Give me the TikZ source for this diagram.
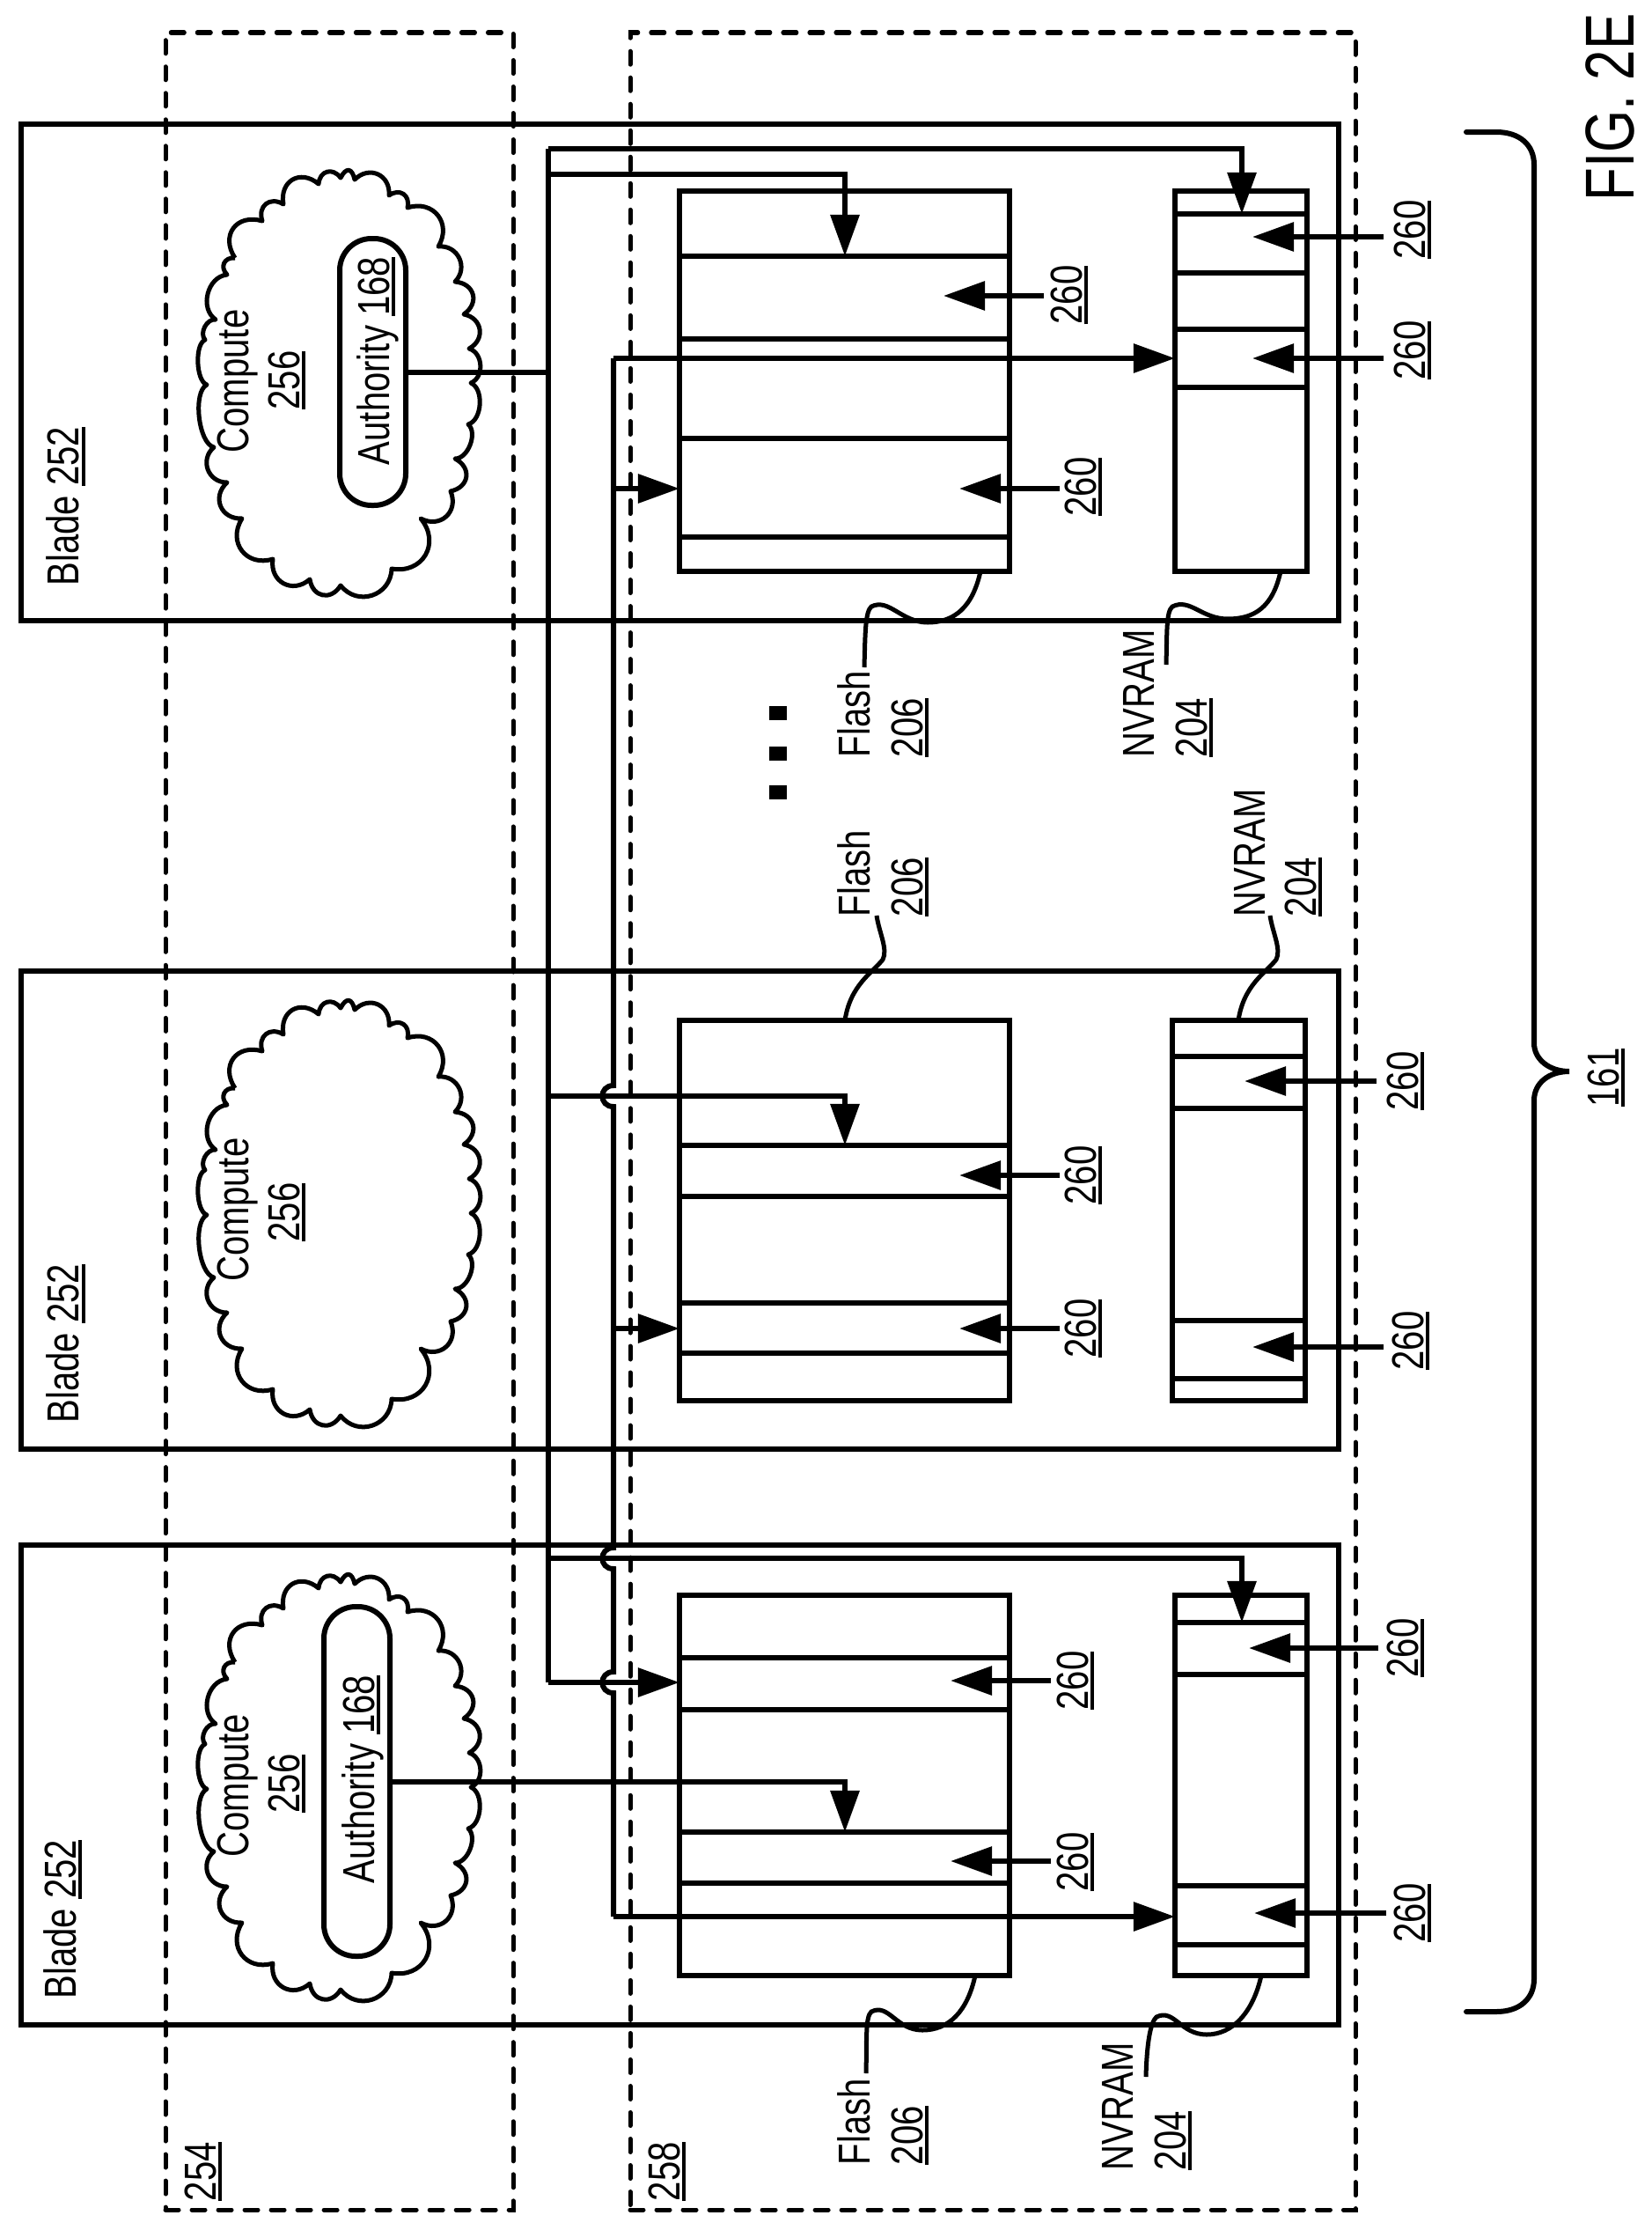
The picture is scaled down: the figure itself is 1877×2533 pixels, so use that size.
\documentclass[tikz,border=0pt]{standalone}
\usepackage{fontspec}
\setmainfont{Liberation Sans}
\usetikzlibrary{arrows.meta}
\newcommand{\refnum}[1]{\vtop{\hbox{#1}\kern0.5pt\hrule height 0.9pt}}
\newcommand{\lab}[1]{\scalebox{1}[1.27]{#1}}
\begin{document}
\begin{tikzpicture}
  [
    x=0.01cm, y=-0.01cm,
    >={Triangle[length=0.47cm,width=0.32cm]},
    wire/.style     = {line width=0.06cm},
    thinwire/.style = {line width=0.05cm},
    solidbox/.style = {draw, line width=0.06cm, inner sep=0pt, outer sep=0pt},
    pillbox/.style  = {solidbox, rounded corners=0.36cm},
    regionbox/.style= {draw, line width=0.05cm, line cap=round, dash pattern=on 0.15cm off 0.15cm, inner sep=0pt, outer sep=0pt},
    txt/.style      = {rotate=90, inner sep=0pt, outer sep=0pt, font=\fontsize{11.4}{13}\selectfont},
    dotbox/.style   = {fill=black, inner sep=0pt, minimum width=0.2cm, minimum height=0.16cm},
    hop/.style      = {out=180, in=180, looseness=1.8},
  ]
\useasboundingbox (0,0) rectangle (1877,2533);

%Blades, memories and the two dashed regions
\foreach \name/\sty/\xa/\ya/\xb/\yb in {
  computeRegion/regionbox/188/37/583/2510, storageRegion/regionbox/716/37/1540/2510,
  bladeA/solidbox/24/141/1521/705, bladeB/solidbox/24/1103/1521/1646, bladeC/solidbox/24/1755/1521/2300,
  flashA/solidbox/772/217/1147/649, flashB/solidbox/772/1159/1147/1591, flashC/solidbox/772/1812/1147/2244,
  nvramA/solidbox/1335/217/1485/649, nvramB/solidbox/1332/1159/1483/1591, nvramC/solidbox/1335/1812/1485/2244,
  pillA/pillbox/386/271/461/574, pillC/pillbox/368/1825/443/2222}
{
\node[\sty, minimum width={(\xb-\xa)*0.01cm}, minimum height={(\yb-\ya)*0.01cm}] (\name) at ({(\xa+\xb)/2},{(\ya+\yb)/2}) {};
}

%Rows inside the memories
\foreach \b/\ys in {
  flashA/{291,385,498,610}, flashB/{1301,1359,1480,1537}, flashC/{1883,1942,2081,2139},
  nvramA/{243,310,374,440}, nvramB/{1200,1259,1500,1566}, nvramC/{1843,1902,2142,2209}}
{
\foreach \y in \ys {
\draw[wire] (\b.west |- 0,\y) -- (\b.east |- 0,\y);
}
}

%Clouds, all three from one outline
\foreach \dy in {0,943,1595}
{
\begin{scope}[shift={(210,{170+\dy})}]
\draw[thinwire, line join=round] (57,123) foreach \cx/\cy/\l in {88/81/1.5,112/62/1.5,152/39/1.5,177/32/1.5,193/34/2.2,232/52/1.4,253/66/1.5,288/110/1.4,307/150/1.3,317/187/1.5,323/226/1.4,325/265/1.1,322/312/0.9,307/351/0.9,302/388/1.5,268/419/1.4,235/476/1.4,177/495/1.3,142/488/1.5,100/465/1.4,65/419/1.4,48/378/1.4,33/338/1.3,25/267/0.65,23/216/0.65,35/193/1,48/142/1.1,57/123/1.5} { to[bend left=70, looseness=\l] (\cx,\cy) };
\end{scope}
}

%Texts centred on a point
\foreach \name/\x/\y/\t in {
  bladeAlab/90/575/Blade \refnum{252}, bladeBlab/90/1526/Blade \refnum{252}, bladeClab/86/2180/Blade \refnum{252},
  computeAlab/282/433/Compute, computeBlab/282/1374/Compute, computeClab/282/2028/Compute,
  computeAnum/340/432/\refnum{256}, computeBnum/340/1377/\refnum{256}, computeCnum/340/2026/\refnum{256},
  pillAlab/442/410/Authority \refnum{168}, pillClab/425/2021/Authority \refnum{168},
  groupnum/1839/1224/\refnum{161}}
{
\node[txt, anchor=base] (\name) at (\x,\y) {\lab{\t}};
}
\node[txt, anchor=base, font=\fontsize{17.6}{20}\selectfont] (figlab) at (1856,122) {\lab{FIG. 2E}};

%Texts starting at a point
\foreach \name/\x/\y/\t in {
  flashAlab/988/860/Flash, flashAnum/1048/860/\refnum{206}, nvramAlab/1311/860/NVRAM, nvramAnum/1371/860/\refnum{204},
  flashBlab/988/1041/Flash, flashBnum/1048/1041/\refnum{206}, nvramBlab/1437/1041/NVRAM, nvramBnum/1495/1041/\refnum{204},
  flashClab/988/2459/Flash, flashCnum/1048/2459/\refnum{206}, nvramClab/1287/2465/NVRAM, nvramCnum/1347/2465/\refnum{204},
  computeRegionnum/245/2500/\refnum{254}, storageRegionnum/772/2500/\refnum{258}}
{
\node[txt, anchor=base west] (\name) at (\x,\y) {\lab{\t}};
}

%Three dots between the blades
\foreach \i/\y in {1/810,2/856,3/900}
{
\node[dotbox] (dot\i) at (884,\y) {};
}

%Numbered arrows into the rows
\foreach \name/\lx/\ly/\y/\sx/\tx in {
  a/1229/335/336/1186/1072, b/1245/553/555/1204/1090, c/1619/261/269/1572/1423, d/1619/398/407/1572/1423,
  e/1245/1335/1335/1204/1090, f/1245/1509/1509/1204/1090, g/1611/1228/1228/1564/1414, h/1617/1523/1530/1572/1423,
  i/1236/1909/1909/1194/1080, j/1236/2115/2114/1194/1080, k/1611/1872/1872/1566/1419, l/1619/2173/2173/1575/1425}
{
\node[txt, anchor=base] (num\name) at (\lx,\ly) {\lab{\refnum{260}}};
\coordinate (tail\name) at (\sx,\y);
\coordinate (tip\name) at (\tx,\y);
\draw[wire,->] (tail\name) -- (tip\name);
}

%Two buses
\coordinate (busAtop) at (623,169);
\coordinate (busAend) at (623,1911);
\coordinate (busBtop) at (697,407);
\coordinate (busBend) at (697,2177);
\draw[wire] (busAtop) -- (busAend);
\draw[wire] (busBtop) -- (697,1233) to[hop] (697,1257) -- (697,1758) to[hop] (697,1782) -- (697,1899) to[hop] (697,1923) -- (busBend);

%Branches down into a row
\coordinate (tapA) at (623,198);
\coordinate (tapB) at (623,1245);
\coordinate (tapC) at (623,1770);
\coordinate (rowNvA) at (1411,243);
\coordinate (rowFlA) at (960,291);
\coordinate (rowFlB) at (960,1301);
\coordinate (rowNvC) at (1411,1843);
\coordinate (rowFlC) at (960,2081);
\draw[wire,->] (busAtop) -| (rowNvA);
\draw[wire,->] (tapA) -| (rowFlA);
\draw[wire,->] (tapB) -| (rowFlB);
\draw[wire,->] (tapC) -| (rowNvC);
\draw[wire,->] (pillC.east) -| (rowFlC);
\draw[wire] (pillA.east) -- (pillA.east -| busAtop);

%Branches across to a box
\draw[wire,->] (busBtop) -- (busBtop -| nvramA.west);
\draw[wire,->] (busBend) -- (busBend -| nvramC.west);
\draw[wire,->] (busAend) -- (busAend -| flashC.west);
\coordinate (tapD) at (697,555);
\coordinate (tapE) at (697,1509);
\draw[wire,->] (tapD) -- (tapD -| flashA.west);
\draw[wire,->] (tapE) -- (tapE -| flashB.west);

%Leaders to the Flash and NVRAM texts
\foreach \n/\sx/\sy/\dx/\dy/\hx/\hy/\ex/\ey in {
  a/1114/649/1054/707/990/689/982/758, b/1455/649/1395/703/1332/689/1325/755,
  c/1108/2244/1048/2306/990/2285/984/2355, d/1433/2244/1371/2311/1314/2291/1302/2359}
{
\coordinate (leadS\n) at (\sx,\sy);
\coordinate (leadE\n) at (\ex,\ey);
\draw[thinwire] (leadS\n) .. controls +(-9,41) and +(30,0) .. (\dx,\dy) .. controls +(-30,0) and +(20,-10) .. (\hx,\hy) .. controls +(-7,6) and +(1,-38) .. (leadE\n);
}
\foreach \n/\b/\mx/\ex in {e/flashB/1003/996, f/nvramB/1450/1443}
{
\coordinate (leadS\n) at (\ex-36,1159);
\coordinate (leadE\n) at (\ex,1040);
\draw[thinwire] (leadS\n) .. controls +(6,-40) and +(-12,15) .. (\mx,1090) .. controls +(6,-12) and +(3,20) .. (leadE\n);
}

%Brace on the right
\coordinate (braceA) at (1666,150);
\coordinate (braceB) at (1666,2285);
\draw[wire, line cap=round] (braceA) -- (1700,150) .. controls (1727,150) and (1743,165) .. (1743,187) -- (1743,1185) .. controls (1743,1203) and (1760,1217) .. (1783,1217) .. controls (1760,1217) and (1743,1230) .. (1743,1250) -- (1743,2248) .. controls (1743,2270) and (1727,2285) .. (1700,2285) -- (braceB);
\end{tikzpicture}
\end{document}
